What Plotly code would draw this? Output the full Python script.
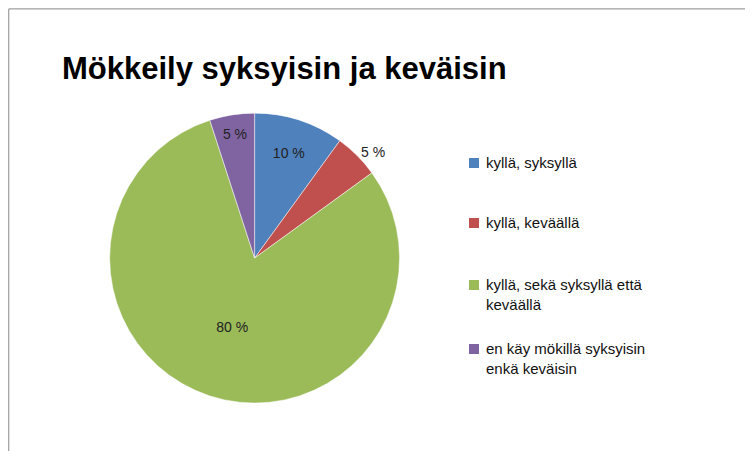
import plotly.graph_objects as go

labels = ["kyllä, syksyllä", "kyllä, keväällä", "kyllä, sekä syksyllä että<br>keväällä",
          "en käy mökillä syksyisin<br>enkä keväisin"]
values = [10, 5, 80, 5]
colors = ["#4F81BD", "#C0504D", "#9BBB59", "#8064A2"]

fig = go.Figure(go.Pie(
    labels=labels, values=values, sort=False, direction="clockwise", rotation=0,
    marker=dict(colors=colors, line=dict(color="white", width=0.5)),
    texttemplate="%{value} %", textposition=["inside", "outside", "inside", "inside"],
    insidetextorientation="horizontal",
    textfont=dict(family="Liberation Sans, Arial", size=14, color="#222"),
    domain=dict(x=[0.135, 0.520], y=[0.124, 0.767]),
    showlegend=False,
))

# legend drawn by hand so the wrapped entries keep Excel-like spacing
leg_y = [155, 215, 277, 341]
for lab, col, y in zip(labels, colors, leg_y):
    fig.add_shape(type="rect", xref="paper", yref="paper",
                  x0=461 / 753, x1=471 / 753, y0=1 - (y + 5) / 451, y1=1 - (y - 5) / 451,
                  fillcolor=col, line=dict(width=0))
    fig.add_annotation(x=476 / 753, y=1 - (y - 11) / 451, xref="paper", yref="paper",
                       text=lab, showarrow=False, xanchor="left", yanchor="top", align="left",
                       font=dict(family="Liberation Sans, Arial", size=15, color="#111"))

fig.add_shape(type="rect", xref="paper", yref="paper", x0=0.001, x1=0.996, y0=0.004, y1=0.998,
              line=dict(color="#888", width=1))

fig.update_layout(
    width=753, height=451, margin=dict(l=0, r=0, t=0, b=0),
    paper_bgcolor="white", plot_bgcolor="white",
    title=dict(text="<b>Mökkeily syksyisin ja keväisin</b>", x=54 / 753, xanchor="left",
               y=1 - 60 / 451, yanchor="middle",
               font=dict(family="Liberation Sans, Arial", size=31, color="black")),
)

fig.write_html("out.html")
